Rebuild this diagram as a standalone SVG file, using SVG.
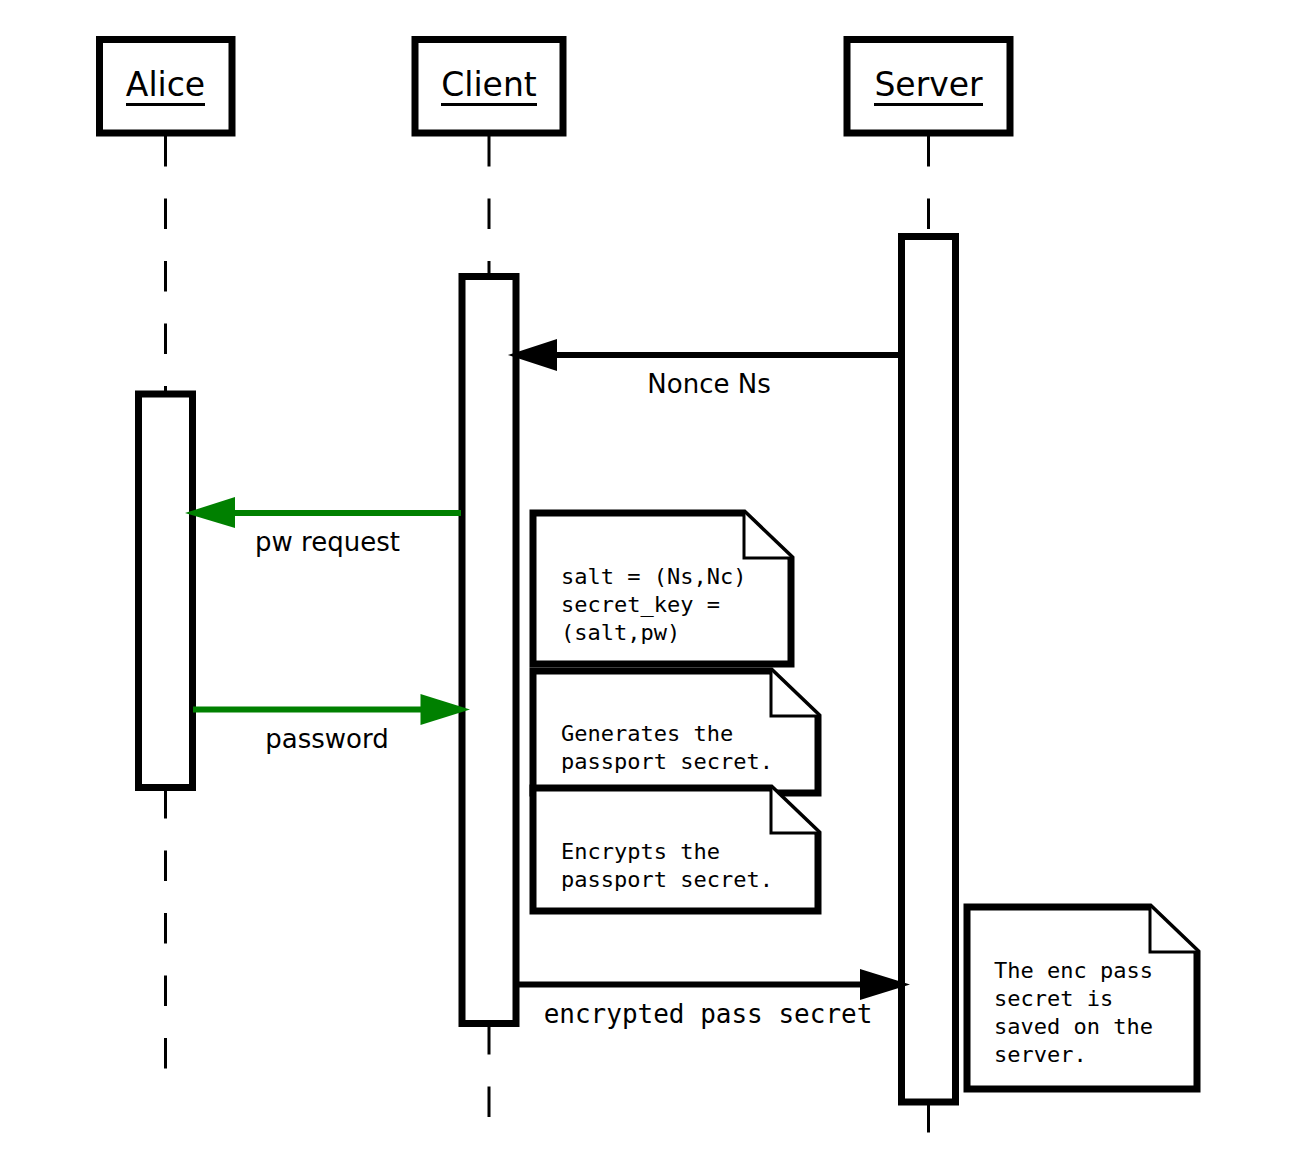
<svg xmlns="http://www.w3.org/2000/svg" width="1307" height="1159" viewBox="0 0 1307 1159">
<style>
.box{fill:#fff;stroke:#000;stroke-width:7}
.act{fill:#fff;stroke:#000;stroke-width:7}
.life{stroke:#000;stroke-width:3;stroke-dasharray:30.5 32;fill:none}
.title{font-family:"DejaVu Sans",sans-serif;font-size:33px;text-anchor:middle;fill:#000}
.ul{stroke:#000;stroke-width:3}
.note{fill:#fff;stroke:#000;stroke-width:7;stroke-linejoin:miter}
.fold{fill:#fff;stroke:#000;stroke-width:3}
.nt{font-family:"DejaVu Sans Mono",monospace;font-size:22px;fill:#000}
.msg{stroke-width:6;fill:none}
.lbl{font-family:"DejaVu Sans",sans-serif;font-size:26px;text-anchor:middle;fill:#000}
.lblm{font-family:"DejaVu Sans Mono",monospace;font-size:26px;text-anchor:middle;fill:#000}
</style>
<rect width="1307" height="1159" fill="#fff"/>
<g id="lifelines">
<line class="life" x1="165.5" y1="136" x2="165.5" y2="394"/>
<line class="life" x1="165.5" y1="788" x2="165.5" y2="1072"/>
<line class="life" x1="489" y1="136" x2="489" y2="276"/>
<line class="life" x1="489" y1="1024" x2="489" y2="1119"/>
<line class="life" x1="928.5" y1="136" x2="928.5" y2="236"/>
<line class="life" x1="928.5" y1="1102" x2="928.5" y2="1134"/>
</g>
<g id="alice">
<rect class="box" x="99.5" y="39.5" width="132.5" height="93.5"/>
<text class="title" x="165.5" y="96">Alice</text>
<line class="ul" x1="126" y1="104.5" x2="205" y2="104.5"/>
</g>
<g id="client">
<rect class="box" x="415" y="39.5" width="148" height="93.5"/>
<text class="title" x="489" y="96">Client</text>
<line class="ul" x1="441" y1="104.5" x2="537" y2="104.5"/>
</g>
<g id="server">
<rect class="box" x="847" y="39.5" width="163" height="93.5"/>
<text class="title" x="928.5" y="96">Server</text>
<line class="ul" x1="874" y1="104.5" x2="983" y2="104.5"/>
</g>
<g id="alice-activation"><rect class="act" x="138.5" y="394" width="54" height="393.5"/></g>
<g id="client-activation"><rect class="act" x="462" y="276.5" width="54" height="747"/></g>
<g id="server-activation"><rect class="act" x="901.5" y="236.5" width="54" height="865.5"/></g>
<g id="connectors">
<line class="msg" stroke="#000" x1="901" y1="355" x2="552" y2="355"/>
<polygon points="508,355 557,339 557,371" fill="#000"/>
<text class="lbl" x="709" y="393">Nonce Ns</text>
<line class="msg" stroke="#008000" x1="461" y1="513" x2="230" y2="513"/>
<polygon points="185,513 235,497 235,528" fill="#008000"/>
<text class="lbl" x="327.5" y="551">pw request</text>
<line class="msg" stroke="#008000" x1="193" y1="709.5" x2="425" y2="709.5"/>
<polygon points="470,709.5 420.5,694 420.5,725" fill="#008000"/>
<text class="lbl" x="327" y="748">password</text>
<line class="msg" stroke="#000" x1="516" y1="984.5" x2="865" y2="984.5"/>
<polygon points="910,984.5 860,969 860,1000" fill="#000"/>
<text class="lblm" x="708" y="1023">encrypted pass secret</text>
</g>
<g id="note-salt">
<path class="note" d="M533,513 H744 L791,558 V664 H533 Z"/>
<path class="fold" d="M744,513 V558 H791"/>
<text class="nt" x="561" y="584">salt = (Ns,Nc)</text>
<text class="nt" x="561" y="612">secret_key =</text>
<text class="nt" x="561" y="640">(salt,pw)</text>
</g>
<g id="note-generate">
<path class="note" d="M533,671 H771 L818,716 V793 H533 Z"/>
<path class="fold" d="M771,671 V716 H818"/>
<text class="nt" x="561" y="741">Generates the</text>
<text class="nt" x="561" y="769">passport secret.</text>
</g>
<g id="note-encrypt">
<path class="note" d="M533,788 H771 L818,833 V911 H533 Z"/>
<path class="fold" d="M771,788 V833 H818"/>
<text class="nt" x="561" y="859">Encrypts the</text>
<text class="nt" x="561" y="887">passport secret.</text>
</g>
<g id="note-saved">
<path class="note" d="M967,907 H1150 L1197,952 V1089 H967 Z"/>
<path class="fold" d="M1150,907 V952 H1197"/>
<text class="nt" x="994" y="978">The enc pass</text>
<text class="nt" x="994" y="1006">secret is</text>
<text class="nt" x="994" y="1034">saved on the</text>
<text class="nt" x="994" y="1061.5">server.</text>
</g>
</svg>
